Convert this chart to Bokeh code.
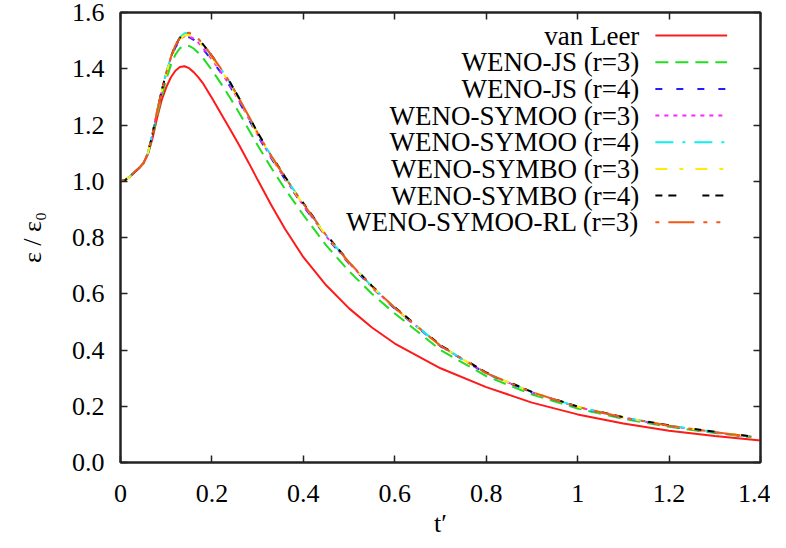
from bokeh.plotting import figure
from bokeh.models import LinearAxis, FixedTicker, Label, Arrow, Range1d
from bokeh.embed import file_html
from bokeh.resources import INLINE

# ---------------- data ----------------
t_vl = [0, 0.01, 0.02, 0.03, 0.04, 0.05, 0.06, 0.07, 0.08, 0.09, 0.10, 0.11, 0.12, 0.13,
        0.14, 0.15, 0.16, 0.17, 0.18, 0.20, 0.22, 0.24, 0.26, 0.28, 0.30, 0.33, 0.36,
        0.40, 0.45, 0.50, 0.55, 0.60, 0.70, 0.80, 0.90, 1.00, 1.10, 1.20, 1.30, 1.40]
t_weno = [0, 0.01, 0.02, 0.03, 0.04, 0.05, 0.06, 0.07, 0.08, 0.09, 0.10, 0.11, 0.12, 0.13,
          0.14, 0.15, 0.16, 0.17, 0.18, 0.20, 0.22, 0.24, 0.26, 0.28, 0.30, 0.33, 0.36,
          0.40, 0.45, 0.50, 0.55, 0.60, 0.70, 0.80, 0.90, 1.00, 1.10, 1.20, 1.30, 1.38]

van_leer = [1.000, 1.004, 1.016, 1.031, 1.045, 1.063, 1.096, 1.152, 1.225, 1.288, 1.334, 1.369,
            1.393, 1.406, 1.409, 1.402, 1.388, 1.370, 1.349, 1.296, 1.240, 1.184, 1.127, 1.067,
            1.005, 0.915, 0.830, 0.730, 0.630, 0.548, 0.480, 0.423, 0.335, 0.268, 0.213, 0.171,
            0.139, 0.113, 0.094, 0.078]
weno_js_r3 = [1.000, 1.004, 1.016, 1.031, 1.046, 1.063, 1.097, 1.160, 1.235, 1.303, 1.362, 1.412,
              1.450, 1.473, 1.482, 1.481, 1.472, 1.457, 1.439, 1.395, 1.347, 1.296, 1.242, 1.185,
              1.128, 1.047, 0.972, 0.880, 0.772, 0.680, 0.600, 0.530, 0.400, 0.307, 0.242, 0.192,
              0.155, 0.127, 0.105, 0.089]
weno_js_r4 = [1.000, 1.004, 1.016, 1.031, 1.046, 1.064, 1.100, 1.168, 1.248, 1.319, 1.382, 1.435,
              1.476, 1.502, 1.513, 1.512, 1.503, 1.489, 1.471, 1.430, 1.385, 1.336, 1.281, 1.222,
              1.162, 1.081, 1.006, 0.912, 0.802, 0.707, 0.622, 0.547, 0.413, 0.316, 0.249, 0.197,
              0.159, 0.130, 0.107, 0.091]
symoo_r3 = [1.000, 1.004, 1.016, 1.031, 1.046, 1.064, 1.100, 1.168, 1.248, 1.320, 1.384, 1.438,
            1.479, 1.505, 1.516, 1.515, 1.507, 1.493, 1.475, 1.433, 1.388, 1.339, 1.284, 1.225,
            1.165, 1.083, 1.008, 0.914, 0.804, 0.709, 0.624, 0.548, 0.414, 0.317, 0.249, 0.197,
            0.159, 0.130, 0.107, 0.091]
symoo_r4 = [1.000, 1.004, 1.016, 1.031, 1.046, 1.064, 1.100, 1.168, 1.248, 1.321, 1.386, 1.441,
            1.484, 1.512, 1.526, 1.527, 1.520, 1.506, 1.488, 1.445, 1.399, 1.349, 1.292, 1.232,
            1.171, 1.090, 1.014, 0.920, 0.808, 0.712, 0.626, 0.550, 0.415, 0.318, 0.250, 0.198,
            0.160, 0.131, 0.108, 0.092]
symbo_r3 = [1.000, 1.004, 1.016, 1.031, 1.046, 1.064, 1.100, 1.168, 1.248, 1.318, 1.382, 1.436,
            1.478, 1.505, 1.519, 1.520, 1.513, 1.499, 1.481, 1.440, 1.395, 1.345, 1.289, 1.229,
            1.168, 1.087, 1.011, 0.917, 0.806, 0.711, 0.625, 0.549, 0.414, 0.318, 0.250, 0.198,
            0.160, 0.131, 0.108, 0.092]
symbo_r4 = [1.000, 1.004, 1.016, 1.031, 1.046, 1.064, 1.100, 1.168, 1.248, 1.321, 1.386, 1.441,
            1.483, 1.510, 1.524, 1.525, 1.519, 1.506, 1.488, 1.446, 1.401, 1.351, 1.294, 1.234,
            1.173, 1.092, 1.016, 0.922, 0.810, 0.714, 0.628, 0.552, 0.417, 0.320, 0.251, 0.199,
            0.161, 0.132, 0.109, 0.093]
symoo_rl_r3 = [1.000, 1.004, 1.016, 1.031, 1.046, 1.064, 1.100, 1.168, 1.248, 1.320, 1.385, 1.440,
               1.483, 1.511, 1.526, 1.528, 1.521, 1.507, 1.489, 1.446, 1.400, 1.350, 1.293, 1.233,
               1.172, 1.090, 1.014, 0.920, 0.808, 0.712, 0.626, 0.550, 0.415, 0.318, 0.250, 0.198,
               0.160, 0.131, 0.108, 0.092]

series_names = ["van Leer", "WENO-JS (r=3)", "WENO-JS (r=4)", "WENO-SYMOO (r=3)",
                "WENO-SYMOO (r=4)", "WENO-SYMBO (r=3)", "WENO-SYMBO (r=4)",
                "WENO-SYMOO-RL (r=3)"]
x_ticks = [0, 0.2, 0.4, 0.6, 0.8, 1.0, 1.2, 1.4]
x_tick_labels = ["0", "0.2", "0.4", "0.6", "0.8", "1", "1.2", "1.4"]
y_ticks = [0, 0.2, 0.4, 0.6, 0.8, 1.0, 1.2, 1.4, 1.6]
y_tick_labels = ["0.0", "0.2", "0.4", "0.6", "0.8", "1.0", "1.2", "1.4", "1.6"]

# ---------------- styles ----------------
colors = ["#ff1a1a", "#22dd22", "#1f1fff", "#ff22ff", "#11eeee", "#ffee00", "#000000", "#f05a14"]
dashes = ["solid", "13 7", "7 14", "4 5", "18 9 3 9", "12 12 4 12", "7 6 8 26", "4 9 26 9 4 9"]

FONT = "Liberation Serif"
FS = "26px"
LEG_FS = "27px"

p = figure(frame_width=640, frame_height=450, output_backend="svg", toolbar_location=None,
           x_range=Range1d(0, 1.4), y_range=Range1d(0, 1.6),
           min_border_left=120, min_border_right=10, min_border_top=12, min_border_bottom=70)
p.xgrid.visible = False
p.ygrid.visible = False
p.outline_line_color = "#222222"
p.outline_line_width = 2
p.background_fill_color = "white"
p.border_fill_color = "white"

data = [(t_vl, van_leer), (t_weno, weno_js_r3), (t_weno, weno_js_r4), (t_weno, symoo_r3),
        (t_weno, symoo_r4), (t_weno, symbo_r3), (t_weno, symbo_r4), (t_weno, symoo_rl_r3)]
for (tx, vy), c, d in zip(data, colors, dashes):
    p.line(tx, vy, line_color=c, line_width=2, line_dash=d)

def style_axis(ax, ticks, labels, show_labels=True):
    ax.ticker = FixedTicker(ticks=ticks)
    if show_labels:
        ax.major_label_overrides = {t: l for t, l in zip(ticks, labels)}
    else:
        ax.major_label_overrides = {t: "" for t in ticks}
    ax.major_tick_in = 7
    ax.major_tick_out = 0
    ax.minor_tick_line_color = None
    ax.axis_line_color = "#222222"
    ax.axis_line_width = 2
    ax.major_tick_line_color = "#222222"
    ax.major_tick_line_width = 1.5
    ax.major_label_text_font = FONT
    ax.major_label_text_font_size = FS
    ax.major_label_text_color = "black"
    ax.axis_label_text_font = FONT
    ax.axis_label_text_font_size = FS
    ax.axis_label_text_font_style = "normal"
    ax.axis_label_text_color = "black"

xa = p.xaxis[0]
ya = p.yaxis[0]
style_axis(xa, x_ticks, x_tick_labels)
style_axis(ya, y_ticks, y_tick_labels)
xa.axis_label = "t\u2032"
ya.axis_label = "\u03b5 / \u03b5\u2080"
xa.major_label_standoff = 22
ya.major_label_standoff = 16
xa.axis_label_standoff = 4
ya.axis_label_standoff = 22

top_ax = LinearAxis()
right_ax = LinearAxis()
style_axis(top_ax, x_ticks, x_tick_labels, show_labels=False)
style_axis(right_ax, y_ticks, y_tick_labels, show_labels=False)
top_ax.major_label_standoff = 0
right_ax.major_label_standoff = 0
p.add_layout(top_ax, "above")
p.add_layout(right_ax, "right")

# ---------------- legend (gnuplot style: text right-aligned, sample on the right) ----------------
leg_text_x = 1.135
leg_x0, leg_x1 = 1.170, 1.327
leg_y0, leg_dy = 1.518, 0.0948
for i, (name, c, d) in enumerate(zip(series_names, colors, dashes)):
    yy = leg_y0 - i * leg_dy
    p.add_layout(Label(x=leg_text_x, y=yy, text=name, text_align="right", text_baseline="middle",
                       text_font=FONT, text_font_size=LEG_FS, text_color="black"))
    p.add_layout(Arrow(x_start=leg_x0, y_start=yy, x_end=leg_x1, y_end=yy, start=None, end=None,
                       line_color=c, line_width=2, line_dash=d))

open("out.html", "w").write(file_html(p, INLINE))
